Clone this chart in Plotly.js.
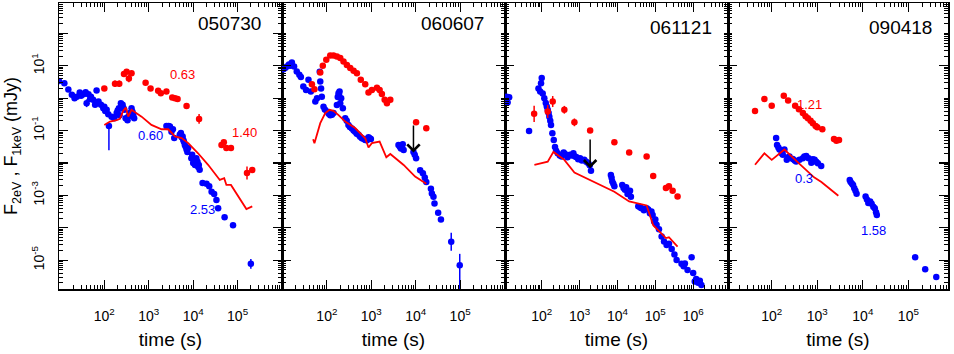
<!DOCTYPE html>
<html>
<head>
<meta charset="utf-8">
<script src="https://cdn.plot.ly/plotly-3.0.1.min.js"></script>
<style>
  html, body { margin: 0; padding: 0; background: #fff; }
  #chart { width: 954px; height: 354px; }
</style>
</head>
<body>
<div id="chart"></div>
<script>
// GRB afterglow light curves: optical (2 eV, red) and X-ray (1 keV, blue), flux in mJy vs time in s

const PANELS = ['050730', '060607', '061121', '090418'];

// --- 050730
const t1Blue = [9.5, 12.6, 15.5, 18.6, 21.4, 24, 28, 34, 38, 40, 44, 50, 56, 62, 67, 74, 84, 95, 113, 123, 127, 146, 167, 190, 213, 236, 258, 281, 302, 333, 377, 410, 448, 470,
  2500, 2800, 3000, 3250, 3750, 5000, 5500, 6000, 6500, 7100, 7700, 9100, 10000, 11000, 11800, 13400, 14000, 16300, 20000, 23000, 26000, 29700, 33400, 36500, 51000, 79000, 199000,
  2650, 3500, 5300, 5800, 6200, 6800, 7400, 9500, 10500, 12500, 13000, 100, 105, 200, 220, 270, 350, 430, 30, 48];
const f1Blue = [3.4, 2.9, 1.85, 1.27, 1.0, 1.12, 1.5, 1.33, 1.53, 0.7, 1.33, 1.12, 0.89, 0.63, 1.73, 0.79, 0.63, 0.49, 0.44, 0.32, 0.14, 0.27, 0.24, 0.35, 0.49, 0.7, 0.63, 0.44, 0.24, 0.21, 0.35, 0.49, 0.31, 0.24,
  0.14, 0.14, 0.135, 0.093, 0.059, 0.074, 0.062, 0.051, 0.036, 0.026, 0.029, 0.014, 0.010, 0.0087, 0.014, 0.0087, 0.0062, 0.0024, 0.0023, 0.0019, 0.0013, 0.0011, 0.00072, 0.0004, 0.00021, 0.00012, 7.7e-6,
  0.13, 0.11, 0.085, 0.066, 0.045, 0.032, 0.022, 0.018, 0.012, 0.011, 0.0075, 0.55, 0.4, 0.42, 0.3, 0.5, 0.28, 0.38, 1.2, 0.95];
const e1Blue = { 9: [0.12, 0.12], 20: [0.05, 0.75], 60: [0.15, 0.15] };
const t1Red = [100, 174, 217, 277, 318, 357, 410, 850, 1100, 1630, 1870, 2500, 3380, 3900, 4460, 7100, 13600, 43500, 49000, 56000, 71000, 163000, 214000];
const f1Red = [2.0, 2.8, 2.8, 5.6, 6.6, 4.1, 5.9, 3.0, 2.0, 1.7, 1.42, 1.6, 1.05, 1.0, 0.95, 0.58, 0.23, 0.036, 0.044, 0.029, 0.029, 0.0049, 0.0061];
const e1Red = { 1: [0.1, 0.1], 2: [0.1, 0.1], 3: [0.08, 0.08], 5: [0.12, 0.12], 6: [0.08, 0.08], 16: [0.15, 0.15], 21: [0.2, 0.2], 22: [0.08, 0.08] };
const t1Model = [100, 134, 190, 225, 267, 307, 346, 410, 690, 1150, 1950, 2750, 3900, 5500, 7750, 12900, 21700, 39800, 50000, 56000, 71000, 158000, 214000];
const f1Model = [0.15, 0.19, 0.21, 0.23, 0.41, 0.51, 0.27, 0.44, 0.27, 0.15, 0.11, 0.11, 0.066, 0.059, 0.041, 0.020, 0.0088, 0.0030, 0.0034, 0.0021, 0.0021, 0.00038, 0.00046];

// --- 060607
const t2Blue = [10.5, 12.6, 16.3, 18.3, 21, 24, 29.5, 34, 38.5, 43.5, 55, 60, 69, 71, 74, 77, 84, 100, 119, 141, 168, 183, 193, 210, 229, 259, 306, 366, 433, 517, 613, 730, 865, 980,
  4100, 4650, 5350, 8900, 10200, 12600, 14500, 17300, 23100, 25100, 26500, 32000, 37000, 63000, 98000,
  11.5, 14, 15, 26, 90, 110, 130, 176, 188, 200, 280, 330, 400, 470, 560, 680, 800, 920, 4400, 4900, 5100, 9500, 16000, 22000];
const f2Blue = [7.9, 9.5, 12.6, 9.5, 6.7, 5.3, 2.3, 1.8, 3.7, 1.6, 0.79, 1.0, 6.6, 3.3, 2.0, 1.12, 0.55, 0.39, 0.30, 0.35, 0.62, 1.42, 1.6, 1.0, 0.49, 0.24, 0.15, 0.117, 0.093, 0.074, 0.058, 0.051, 0.062, 0.055,
  0.036, 0.028, 0.025, 0.022, 0.014, 0.006, 0.0048, 0.0026, 0.00115, 0.00091, 0.00056, 0.00029, 0.00018, 3.7e-5, 7e-6,
  8.5, 11, 10, 4.5, 0.45, 0.33, 0.31, 1.1, 1.25, 0.7, 0.2, 0.13, 0.1, 0.08, 0.065, 0.055, 0.05, 0.058, 0.032, 0.03, 0.038, 0.018, 0.0036, 0.0016];
const e2Blue = { 47: [0.28, 0.28], 48: [0.35, 1.0] };
const t2Red = [46, 52.5, 71, 81, 97, 119, 141, 168, 200, 237, 282, 336, 400, 474, 580, 730, 865, 1030, 1340, 1540, 1730, 2000, 2250, 2680, 10200, 17300];
const f2Red = [2.7, 1.9, 6.2, 10, 15.4, 21, 21, 19.5, 17.4, 13.5, 10.7, 8.5, 7, 5.9, 3.7, 2.7, 1.5, 1.8, 2.1, 1.8, 1.36, 0.89, 0.7, 0.89, 0.18, 0.118];
const e2Red = {};
const t2Model = [49, 52.5, 71, 92, 115, 141, 183, 259, 433, 562, 730, 865, 1030, 1540, 2180, 2680, 5350, 9700, 17300];
const f2Model = [0.054, 0.041, 0.17, 0.35, 0.44, 0.41, 0.30, 0.19, 0.12, 0.083, 0.058, 0.030, 0.041, 0.046, 0.015, 0.019, 0.0087, 0.0038, 0.0023];

// --- 061121
const t3Blue = [12, 13.8, 12.6, 46.3, 82, 91, 96, 100, 106, 117, 128, 144, 159, 176, 191, 208, 224, 264, 337, 414, 558, 686, 835, 1030, 1330, 1700, 2000,
  6700, 7300, 8300, 13400, 15800, 20000, 22700, 35500, 43500, 59000, 79000, 93000, 108000, 147000, 199000, 271000, 365000, 492000, 605000, 710000, 910000, 1e6, 1.1e6, 1.35e6, 1.65e6,
  136, 152, 168, 240, 300, 380, 480, 620, 760, 920, 1150, 1500, 1850, 7000, 7800, 14500, 17000, 18500, 21500, 40000, 50000, 65000, 72000, 85000, 100000, 125000, 170000, 230000, 320000, 560000, 1.2e6, 1.5e6];
const f3Blue = [1.12, 1.07, 0.74, 0.098, 2.0, 1.6, 2.9, 4.2, 1.4, 1.0, 0.71, 0.44, 0.27, 0.15, 0.083, 0.051, 0.031, 0.020, 0.016, 0.019, 0.018, 0.020, 0.015, 0.014, 0.0126, 0.0098, 0.0058,
  0.0043, 0.0027, 0.0019, 0.0021, 0.0015, 0.0012, 0.00091, 0.00046, 0.0004, 0.0004, 0.00032, 0.000155, 0.000123, 5.4e-5, 2.95e-5, 2.2e-5, 1.02e-5, 7.8e-6, 7.9e-6, 5.0e-6, 1.23e-5, 4.0e-6, 2.2e-6, 2.0e-6, 1.7e-6,
  0.56, 0.35, 0.2, 0.024, 0.017, 0.021, 0.015, 0.017, 0.016, 0.013, 0.012, 0.011, 0.0085, 0.0035, 0.0023, 0.0017, 0.0018, 0.0011, 0.0014, 0.00042, 0.00035, 0.00037, 0.00028, 0.00025, 0.00018, 9e-5, 3.8e-5, 3.2e-5, 1.5e-5, 6.5e-6, 2.6e-6, 2.3e-6];
const e3Blue = { 2: [0.1, 0.1], 3: [0.06, 0.06] };
const t3Red = [63, 144, 195, 396, 730, 1900, 8300, 20400, 59000, 88000, 191000, 229000, 287000, 387000];
const f3Red = [0.33, 0.39, 0.79, 0.44, 0.18, 0.10, 0.044, 0.021, 0.016, 0.004, 0.0017, 0.0019, 0.0014, 0.00093];
const e3Red = { 0: [0.25, 0.25], 1: [0.2, 0.2], 2: [0.17, 0.17], 3: [0.12, 0.12], 4: [0.12, 0.12], 5: [0.06, 0.06] };
const t3Model = [64, 144, 204, 396, 730, 8300, 20400, 59000, 88000, 191000, 229000, 387000];
const f3Model = [0.0088, 0.011, 0.022, 0.0125, 0.0051, 0.0013, 0.00065, 0.00049, 0.00012, 4.8e-5, 5.1e-5, 2.6e-5];

// --- 090418
const t4Blue = [125, 131, 148, 166, 190, 214, 245, 290, 344, 407, 483, 572, 645, 740, 875, 1030, 1220, 5160, 5800, 6500, 7300, 11500, 13200, 15600, 18300, 20300, 141000, 234000, 410000,
  140, 175, 230, 320, 520, 800, 950, 5400, 6100, 6900, 12300, 14500, 17000, 19500];
const f4Blue = [0.059, 0.036, 0.026, 0.020, 0.026, 0.0126, 0.0158, 0.0132, 0.0112, 0.0126, 0.0141, 0.0166, 0.0141, 0.0102, 0.0126, 0.0098, 0.0081, 0.0030, 0.0023, 0.00166, 0.00112, 0.00093, 0.00058, 0.00055, 0.0004, 0.00025, 1.23e-5, 5.2e-6, 3.0e-6,
  0.03, 0.018, 0.015, 0.012, 0.016, 0.013, 0.011, 0.0026, 0.0021, 0.0014, 0.00075, 0.00065, 0.00045, 0.0003];
const e4Blue = {};
const t4Red = [43, 69, 100, 184, 229, 327, 395, 483, 553, 623, 714, 800, 920, 1000, 1290, 2330, 2630, 3000];
const f4Red = [0.40, 0.95, 0.59, 1.2, 0.85, 0.59, 0.46, 0.35, 0.28, 0.24, 0.20, 0.17, 0.14, 0.126, 0.11, 0.055, 0.049, 0.051];
const e4Red = {};
const t4Model = [43, 69, 100, 190, 407, 850, 1230, 2900];
const f4Model = [0.0088, 0.020, 0.0125, 0.026, 0.0094, 0.0036, 0.0026, 0.00097];

// decay index labels: [panel, log10 t, log10 F, text, colour]
const slopeLabels = [
  [0, 3.76, 0.72, '0.63', 'red'], [0, 5.15, -1.05, '1.40', 'red'],
  [0, 3.05, -1.16, '0.60', 'blue'], [0, 4.21, -3.45, '2.53', 'blue'],
  [3, 2.83, -0.19, '1.21', 'red'], [3, 2.71, -2.49, '0.3', 'blue'], [3, 4.23, -4.08, '1.58', 'blue'],
];
// upper-limit arrows: [panel, t, F from, F to]
const limitArrows = [[1, 8900, 0.16, 0.021], [2, 1900, 0.059, 0.0069]];

const xTickVals = [10, 100, 1e3, 1e4, 1e5, 1e6];
const yTickVals = [1e-5, 1e-4, 1e-3, 1e-2, 1e-1, 1, 10, 100];
const yTickText = ['10<sup>-5</sup>', '', '10<sup>-3</sup>', '', '10<sup>-1</sup>', '', '10<sup>1</sup>', ''];

const FONT = 'Liberation Sans, Arial, Helvetica, sans-serif';
const BLUE = '#0000ff';
const RED = '#ff0000';

const blueSets = [[t1Blue, f1Blue, e1Blue], [t2Blue, f2Blue, e2Blue], [t3Blue, f3Blue, e3Blue], [t4Blue, f4Blue, e4Blue]];
const redSets = [[t1Red, f1Red, e1Red], [t2Red, f2Red, e2Red], [t3Red, f3Red, e3Red], [t4Red, f4Red, e4Red]];
const modelSets = [[t1Model, f1Model], [t2Model, f2Model], [t3Model, f3Model], [t4Model, f4Model]];

const xRanges = [[0.98, 6.0], [0.99, 6.01], [1.03, 6.92], [1.04, 5.87]];
const edges = [59, 282, 505, 728, 948];
const marginL = 59, marginR = 6, plotW = 954 - marginL - marginR;

function errBars(f, errs) {
  // errors are given in dex; convert to linear plus/minus
  const plus = f.map((v, i) => errs[i] ? v * (Math.pow(10, errs[i][0]) - 1) : 0);
  const minus = f.map((v, i) => errs[i] ? v * (1 - Math.pow(10, -errs[i][1])) : 0);
  return { type: 'data', symmetric: false, array: plus, arrayminus: minus, thickness: 1.5, width: 0 };
}

function points(t, f, errs, color, i) {
  const s = i === 0 ? '' : String(i + 1);
  return {
    type: 'scatter', mode: 'markers', x: t, y: f, xaxis: 'x' + s, yaxis: 'y' + s,
    marker: { color, size: 6.5, line: { width: 0 } },
    error_y: { ...errBars(f, errs), color },
    showlegend: false, hoverinfo: 'x+y',
  };
}

const traces = [];
for (let i = 0; i < 4; i++) {
  const s = i === 0 ? '' : String(i + 1);
  traces.push(points(...blueSets[i], BLUE, i));
  traces.push(points(...redSets[i], RED, i));
  traces.push({
    type: 'scatter', mode: 'lines', x: modelSets[i][0], y: modelSets[i][1],
    xaxis: 'x' + s, yaxis: 'y' + s, line: { color: RED, width: 1.8 }, showlegend: false,
  });
}

const layout = {
  width: 954, height: 354,
  margin: { l: marginL, r: marginR, t: 3, b: 65 },
  paper_bgcolor: '#fff', plot_bgcolor: '#fff',
  font: { family: FONT, color: '#000', size: 13 },
  annotations: [],
  showlegend: false,
};

const axisCommon = {
  type: 'log', showline: true, linecolor: '#000', linewidth: 1.5, mirror: 'ticks',
  ticks: 'inside', tickcolor: '#000', tickwidth: 1.2, showgrid: false, zeroline: false,
  tickmode: 'array',
  minor: { ticks: 'inside', ticklen: 4, tickwidth: 1, tickcolor: '#000', dtick: 'D1', showgrid: false },
};

for (let i = 0; i < 4; i++) {
  const s = i === 0 ? '' : String(i + 1);
  const d0 = (edges[i] - marginL) / plotW, d1 = (edges[i + 1] - marginL) / plotW;
  const labelled = i === 2 ? [100, 1e3, 1e4, 1e5, 1e6] : [100, 1e3, 1e4, 1e5];
  layout['xaxis' + s] = {
    ...axisCommon, domain: [d0, Math.min(d1, 1)], range: xRanges[i], anchor: 'y' + s,
    tickvals: xTickVals,
    ticktext: xTickVals.map((v) => labelled.includes(v) ? '10<sup>' + Math.round(Math.log10(v)) + '</sup>' : ''),
    ticklen: 9, tickfont: { size: 14 }, ticklabelstandoff: 14,
    title: { text: 'time (s)', font: { size: 19 }, standoff: 9 },
  };
  layout['yaxis' + s] = {
    ...axisCommon, domain: [0, 1], range: [-5.89, 2.94], anchor: 'x' + s,
    tickvals: yTickVals, ticktext: yTickText, ticklen: 9,
    showticklabels: i === 0, tickangle: -90, tickfont: { size: 14 }, ticklabelstandoff: 8,
    title: i === 0 ? { text: 'F<sub>2eV</sub> , F<sub>1keV</sub> (mJy)', font: { size: 18 }, standoff: 6 } : { text: '' },
  };
  layout.annotations.push({
    xref: 'x' + s + ' domain', yref: 'y' + s + ' domain', x: i < 2 ? 0.915 : 0.935, y: i < 2 ? 0.93 : 0.915,
    xanchor: 'right', yanchor: 'middle', text: PANELS[i], showarrow: false, font: { size: 19, color: '#000' },
  });
}

slopeLabels.forEach(([p, lx, ly, text, color]) => {
  const s = p === 0 ? '' : String(p + 1);
  layout.annotations.push({
    xref: 'x' + s, yref: 'y' + s, x: lx, y: ly, text, showarrow: false,
    font: { size: 13, color: color === 'red' ? RED : BLUE },
  });
});

limitArrows.forEach(([p, t, fFrom, fTo]) => {
  const s = p === 0 ? '' : String(p + 1);
  layout.annotations.push({
    xref: 'x' + s, yref: 'y' + s, axref: 'x' + s, ayref: 'y' + s,
    x: Math.log10(t), y: Math.log10(fTo), ax: Math.log10(t), ay: Math.log10(fFrom),
    showarrow: true, arrowhead: 4, arrowsize: 1.6, arrowwidth: 1.5, arrowcolor: '#000', text: '',
  });
});

Plotly.newPlot('chart', traces, layout, { staticPlot: true, displayModeBar: false });
</script>
</body>
</html>
